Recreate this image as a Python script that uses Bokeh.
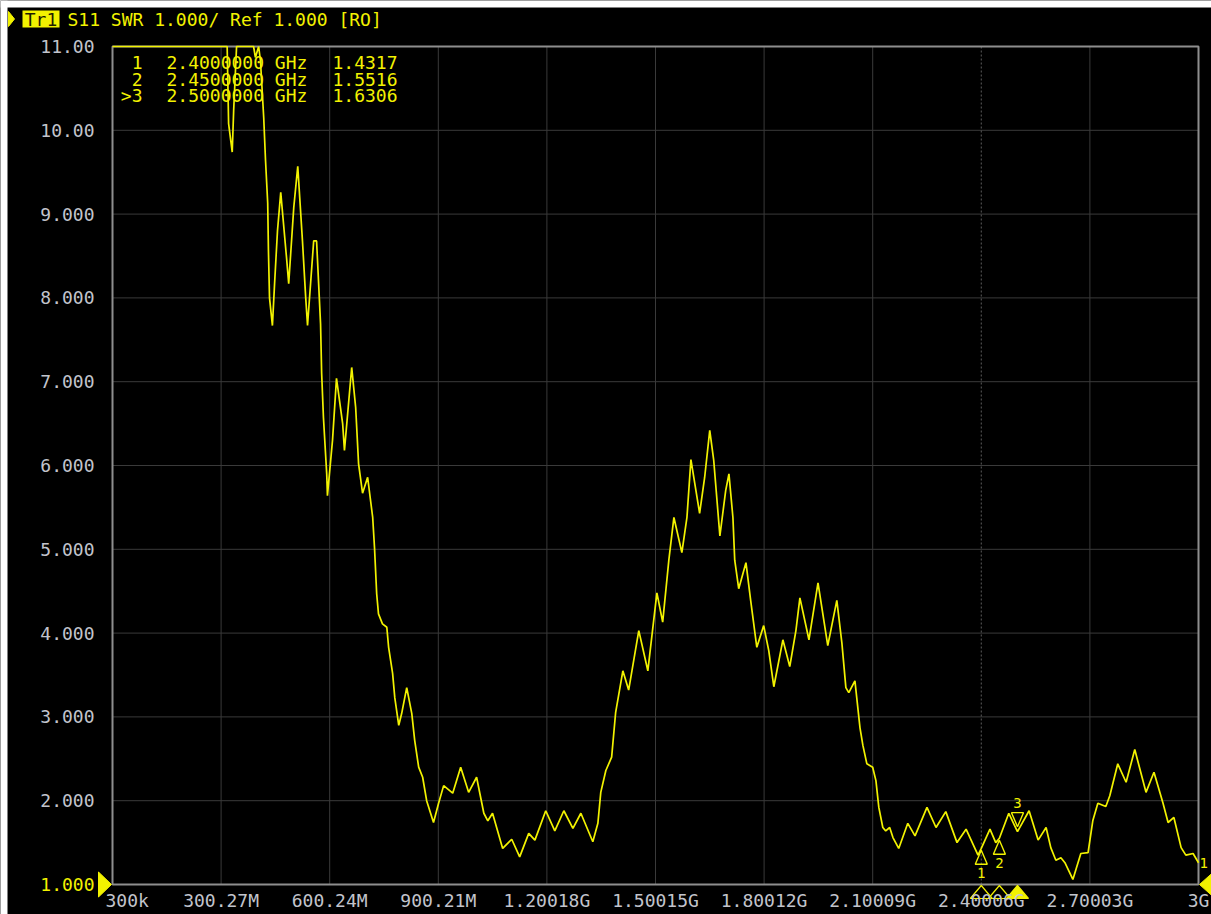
from bokeh.plotting import figure
from bokeh.models import Range1d, Label
from bokeh.embed import file_html
from bokeh.resources import INLINE

# ---------------- data ----------------
freq_mhz = [
    0.3, 317, 321, 331, 335, 343, 390, 395, 404, 409,
    418, 423, 429, 431, 434, 442, 448, 456, 465, 481,
    487, 501, 512, 525, 534, 539, 556, 564, 575, 578,
    583, 592, 594, 608, 619, 636, 641, 661, 672, 680,
    691, 705, 719, 724, 730, 735, 746, 758, 763, 774,
    780, 791, 799, 813, 827, 835, 846, 857, 868, 887,
    901, 915, 940, 962, 984, 1006, 1026, 1037, 1050, 1078,
    1103, 1125, 1150, 1167, 1197, 1222, 1247, 1272, 1294, 1327,
    1341, 1349, 1363, 1379, 1390, 1410, 1426, 1454, 1479, 1504,
    1520, 1537, 1551, 1573, 1587, 1598, 1622, 1636, 1650, 1661,
    1678, 1694, 1703, 1714, 1719, 1730, 1750, 1763, 1780, 1799,
    1813, 1827, 1852, 1871, 1888, 1899, 1924, 1949, 1976, 2001,
    2015, 2026, 2034, 2051, 2065, 2073, 2084, 2100, 2109, 2117,
    2128, 2136, 2147, 2156, 2172, 2197, 2217, 2250, 2275, 2302,
    2333, 2358, 2391, 2400, 2424, 2440, 2450, 2476, 2500, 2532,
    2557, 2579, 2592, 2606, 2620, 2631, 2653, 2675, 2695, 2708,
    2722, 2744, 2755, 2777, 2800, 2824, 2855, 2877, 2902, 2916,
    2932, 2952, 2965, 2985, 3000,
]
swr = [
    11.0, 11.0, 10.08, 9.74, 10.24, 11.0, 11.0, 10.87, 11.0, 10.83,
    10.15, 9.64, 9.13, 8.57, 8.00, 7.67, 8.17, 8.80, 9.26, 8.48,
    8.17, 9.08, 9.57, 8.68, 8.00, 7.67, 8.68, 8.68, 7.69, 7.10,
    6.57, 5.90, 5.64, 6.30, 7.04, 6.50, 6.18, 7.17, 6.69, 6.02,
    5.67, 5.86, 5.38, 5.02, 4.47, 4.23, 4.11, 4.07, 3.83, 3.52,
    3.23, 2.90, 3.04, 3.35, 3.04, 2.72, 2.40, 2.28, 2.00, 1.74,
    1.97, 2.18, 2.09, 2.40, 2.10, 2.28, 1.85, 1.76, 1.85, 1.43,
    1.54, 1.33, 1.61, 1.53, 1.88, 1.64, 1.88, 1.67, 1.85, 1.51,
    1.73, 2.10, 2.36, 2.52, 3.05, 3.55, 3.32, 4.03, 3.55, 4.48,
    4.13, 4.87, 5.38, 4.96, 5.38, 6.07, 5.43, 5.86, 6.42, 6.06,
    5.16, 5.70, 5.90, 5.38, 4.87, 4.53, 4.84, 4.39, 3.83, 4.09,
    3.79, 3.36, 3.92, 3.60, 4.03, 4.42, 3.92, 4.60, 3.85, 4.39,
    3.88, 3.35, 3.29, 3.43, 2.87, 2.66, 2.44, 2.40, 2.24, 1.92,
    1.68, 1.64, 1.68, 1.56, 1.43, 1.73, 1.58, 1.92, 1.68, 1.87,
    1.50, 1.66, 1.35, 1.4317, 1.66, 1.50, 1.5516, 1.85, 1.6306, 1.88,
    1.53, 1.68, 1.44, 1.29, 1.32, 1.26, 1.06, 1.37, 1.38, 1.76,
    1.97, 1.93, 2.06, 2.44, 2.22, 2.61, 2.10, 2.34, 1.97, 1.74,
    1.80, 1.44, 1.35, 1.37, 1.26,
]

x_tick_values = [0.3, 300.27, 600.24, 900.21, 1200.18, 1500.15,
                 1800.12, 2100.09, 2400.06, 2700.03, 3000.0]
x_tick_labels = ["300k", "300.27M", "600.24M", "900.21M", "1.20018G",
                 "1.50015G", "1.80012G", "2.10009G", "2.40006G",
                 "2.70003G", "3G"]
y_tick_values = [1, 2, 3, 4, 5, 6, 7, 8, 9, 10, 11]
y_tick_labels = ["1.000", "2.000", "3.000", "4.000", "5.000", "6.000",
                 "7.000", "8.000", "9.000", "10.00", "11.00"]

marker_ids = ["1", "2", "3"]
marker_rows = ["1", "2", ">3"]
marker_freq_ghz = [2.40, 2.45, 2.50]
marker_swr = [1.4317, 1.5516, 1.6306]
active_marker = 2

header_tag = "Tr1"
header_text = "S11 SWR 1.000/ Ref 1.000 [RO]"

# ---------------- layout / style ----------------
YEL = "#f2f200"
LBL = "#c2c4cc"
GRID = "#3a3a3a"
MONO = "DejaVu Sans Mono"
FS = "18px"

W, H = 1211, 914
FX0, FX1, FY0, FY1 = 112, 1198, 46, 884      # pixel box of the graticule
XMIN, XMAX = x_tick_values[0], x_tick_values[-1]
YMIN, YMAX = y_tick_values[0], y_tick_values[-1]
DX = (XMAX - XMIN) / (FX1 - FX0)             # MHz per pixel
DY = (YMAX - YMIN) / (FY1 - FY0)             # SWR per pixel


def px(u):
    return XMIN + (u - FX0) * DX


def py(v):
    return YMIN + (FY1 - v) * DY


p = figure(width=W, height=H, output_backend="svg", toolbar_location=None,
           x_range=Range1d(px(0), px(W)), y_range=Range1d(py(H), py(0)),
           x_axis_type=None, y_axis_type=None, min_border=0,
           background_fill_color="black", border_fill_color="black",
           outline_line_color=None)

# graticule
m1_mhz = marker_freq_ghz[0] * 1000
gx = [t for t in x_tick_values[1:-1] if abs(t - m1_mhz) > 1]
gy = y_tick_values[1:-1]
p.segment(x0=gx, y0=[YMIN] * len(gx), x1=gx, y1=[YMAX] * len(gx),
          line_color=GRID, line_width=1)
p.segment(x0=[XMIN] * len(gy), y0=gy, x1=[XMAX] * len(gy), y1=gy,
          line_color=GRID, line_width=1)
p.segment(x0=[m1_mhz], y0=[YMIN], x1=[m1_mhz], y1=[YMAX],
          line_color="#5c5c5c", line_dash="2 2", line_width=1)
p.quad(left=[XMIN], right=[XMAX], bottom=[YMIN], top=[YMAX],
       fill_color=None, line_color="#8e8e8e", line_width=2)


def lab(x, y, text, align="left", color=YEL, font=MONO, size=FS):
    p.add_layout(Label(x=x, y=y, text=text, text_align=align,
                       text_baseline="middle", text_color=color,
                       text_font=font, text_font_size=size))


# tick labels
for v, t in zip(y_tick_values, y_tick_labels):
    lab(px(94), v, t, align="right", color=(YEL if v == YMIN else LBL))
for v, t in zip(x_tick_values, x_tick_labels):
    if v == XMIN:
        lab(px(105), py(900), t, align="left", color=LBL)
    else:
        lab(v, py(900), t, align="center", color=LBL)

# trace
p.line(freq_mhz, swr, line_color=YEL, line_width=1.7)

# markers on the trace
mx = [f * 1000 for f in marker_freq_ghz]
for i in range(len(mx)):
    v = marker_swr[i]
    if i == active_marker:
        tx = [mx[i], mx[i] - 6 * DX, mx[i] + 6 * DX]
        ty = [v + 5 * DY, v + 19 * DY, v + 19 * DY]
        lab(mx[i], v + 29 * DY, marker_ids[i], align="center", size="14px")
    else:
        tx = [mx[i], mx[i] - 6 * DX, mx[i] + 6 * DX]
        ty = [v - 2 * DY, v - 16 * DY, v - 16 * DY]
        lab(mx[i], v - 25 * DY, marker_ids[i], align="center", size="14px")
    p.patch(tx, ty, fill_color=None, line_color=YEL, line_width=1.4)
    # indicators under the graticule
    bx = [mx[i], mx[i] - 11 * DX, mx[i] + 11 * DX]
    by = [YMIN - 1 * DY, YMIN - 14 * DY, YMIN - 14 * DY]
    p.patch(bx, by, fill_color=(YEL if i == active_marker else None),
            line_color=YEL, line_width=1.2)

# marker table
for i in range(len(mx)):
    ry = py(62 + 16.5 * i)
    lab(px(142), ry, marker_rows[i], align="right")
    lab(px(166), ry, f"{marker_freq_ghz[i]:.7f} GHz")
    lab(px(332), ry, f"{marker_swr[i]:.4f}")

# reference-level pointers
p.patch([XMIN - 1 * DX, XMIN - 14 * DX, XMIN - 14 * DX],
        [YMIN, YMIN + 12.5 * DY, YMIN - 12.5 * DY], fill_color=YEL,
        line_color=YEL)
p.patch([XMAX + 1 * DX, XMAX + 15 * DX, XMAX + 15 * DX],
        [YMIN, YMIN + 12.5 * DY, YMIN - 12.5 * DY], fill_color=YEL,
        line_color=YEL)
lab(px(1199), swr[-1], "1", size="14px")

# header
p.patch([px(8), px(8), px(14)], [py(11), py(26), py(18.5)], fill_color=YEL,
        line_color=YEL)
p.quad(left=[px(22)], right=[px(59)], top=[py(10)], bottom=[py(27)],
       fill_color=YEL, line_color=None)
lab(px(40.5), py(18.5), header_tag, align="center", color="#1e1e00")
lab(px(67), py(18.5), header_text)

# page margin of the original screenshot
p.quad(left=[px(0)], right=[px(7)], top=[py(0)], bottom=[py(H)],
       fill_color="white", line_color=None)
p.quad(left=[px(0)], right=[px(W)], top=[py(0)], bottom=[py(7)],
       fill_color="white", line_color=None)

open("out.html", "w").write(file_html(p, INLINE))
